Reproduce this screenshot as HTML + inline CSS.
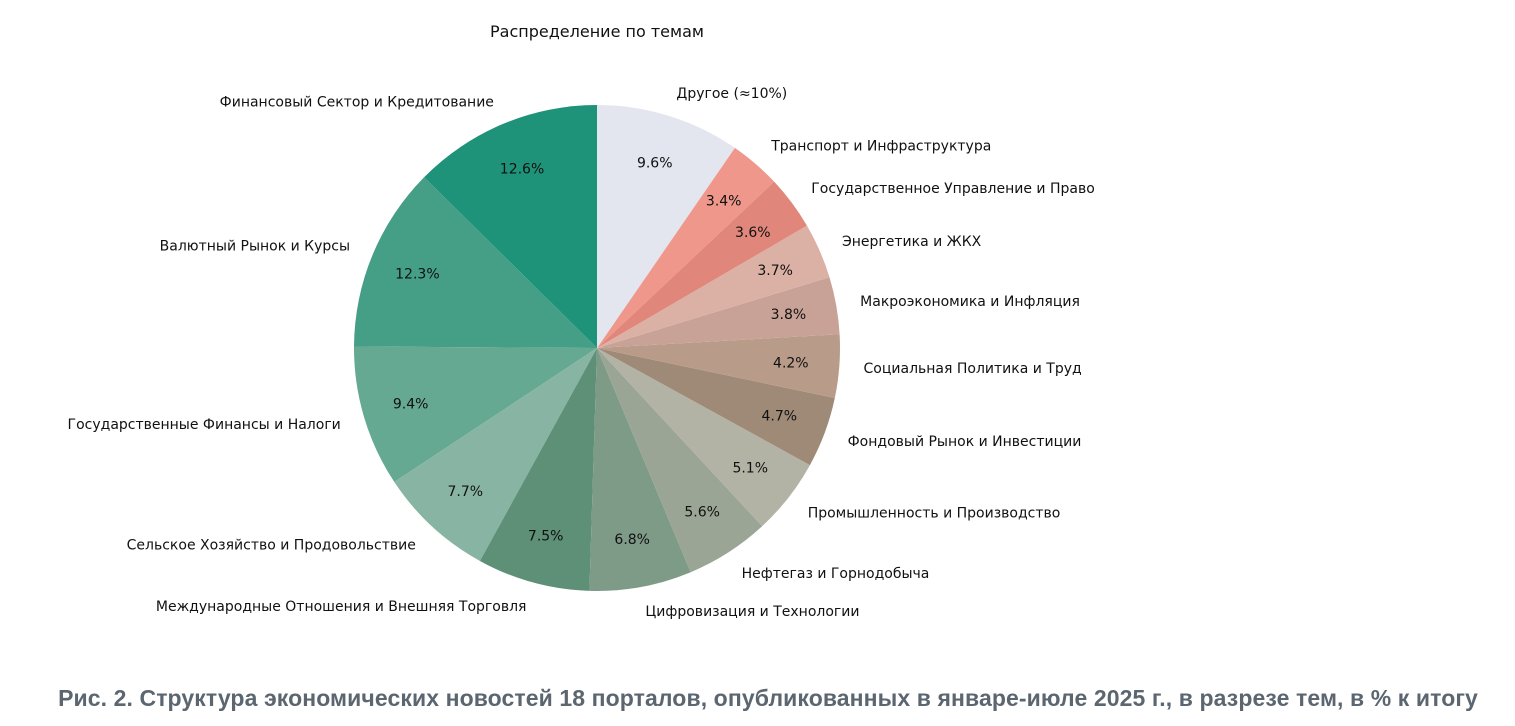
<!DOCTYPE html>
<html><head><meta charset="utf-8">
<style>
body{margin:0;background:#fff;width:1515px;height:726px;overflow:hidden;font-family:"DejaVu Sans","Liberation Sans",sans-serif;}
#cap{position:absolute;left:0;width:1536px;top:685px;text-align:center;font-family:"Liberation Sans",sans-serif;font-weight:bold;font-size:23px;color:#5b6670;letter-spacing:0.1px}
</style></head><body>
<svg id="s" width="1515" height="726" style="position:absolute;left:0;top:0"></svg>
<div id="cap">Рис. 2. Структура экономических новостей 18 порталов, опубликованных в январе-июле 2025 г., в разрезе тем, в % к итогу</div>
<script>
const d=[
["Финансовый Сектор и Кредитование",12.6,"#1e937a"],
["Валютный Рынок и Курсы",12.3,"#459e86"],
["Государственные Финансы и Налоги",9.4,"#66a993"],
["Сельское Хозяйство и Продовольствие",7.7,"#88b5a3"],
["Международные Отношения и Внешняя Торговля",7.5,"#5e8f77"],
["Цифровизация и Технологии",6.8,"#7e9b88"],
["Нефтегаз и Горнодобыча",5.6,"#9aa596"],
["Промышленность и Производство",5.1,"#b3b3a5"],
["Фондовый Рынок и Инвестиции",4.7,"#9e8a77"],
["Социальная Политика и Труд",4.2,"#b99b89"],
["Макроэкономика и Инфляция",3.8,"#c9a297"],
["Энергетика и ЖКХ",3.7,"#dcb1a5"],
["Государственное Управление и Право",3.6,"#e1867a"],
["Транспорт и Инфраструктура",3.4,"#ef978a"],
["Другое (≈10%)",9.6,"#e3e5ef"]];
const cx=597,cy=348,r=243;let a=90,h='';
const P=(ang,rr)=>[cx+rr*Math.cos(ang*Math.PI/180),cy-rr*Math.sin(ang*Math.PI/180)];
let t='';
for(const [n,v,c] of d){const sw=v*3.6,b=a+sw;const [x1,y1]=P(a,r),[x2,y2]=P(b,r);
h+=`<path d="M${cx},${cy}L${x1},${y1}A${r},${r} 0 ${sw>180?1:0} 0 ${x2},${y2}Z" fill="${c}"/>`;
const m=a+sw/2;const [lx,ly]=P(m,r*1.1),[px,py]=P(m,r*0.8);
const anc=Math.cos(m*Math.PI/180)<0?'end':'start';
t+=`<text x="${lx}" y="${ly+5}" text-anchor="${anc}">${n}</text><text x="${px}" y="${py+5}" text-anchor="middle">${v.toFixed(1)}%</text>`;
a=b;}
document.getElementById('s').innerHTML=h+`<g font-size="14" fill="#111">${t}</g><text x="597" y="37" text-anchor="middle" font-size="16" fill="#111">Распределение по темам</text>`;
</script>
</body></html>
